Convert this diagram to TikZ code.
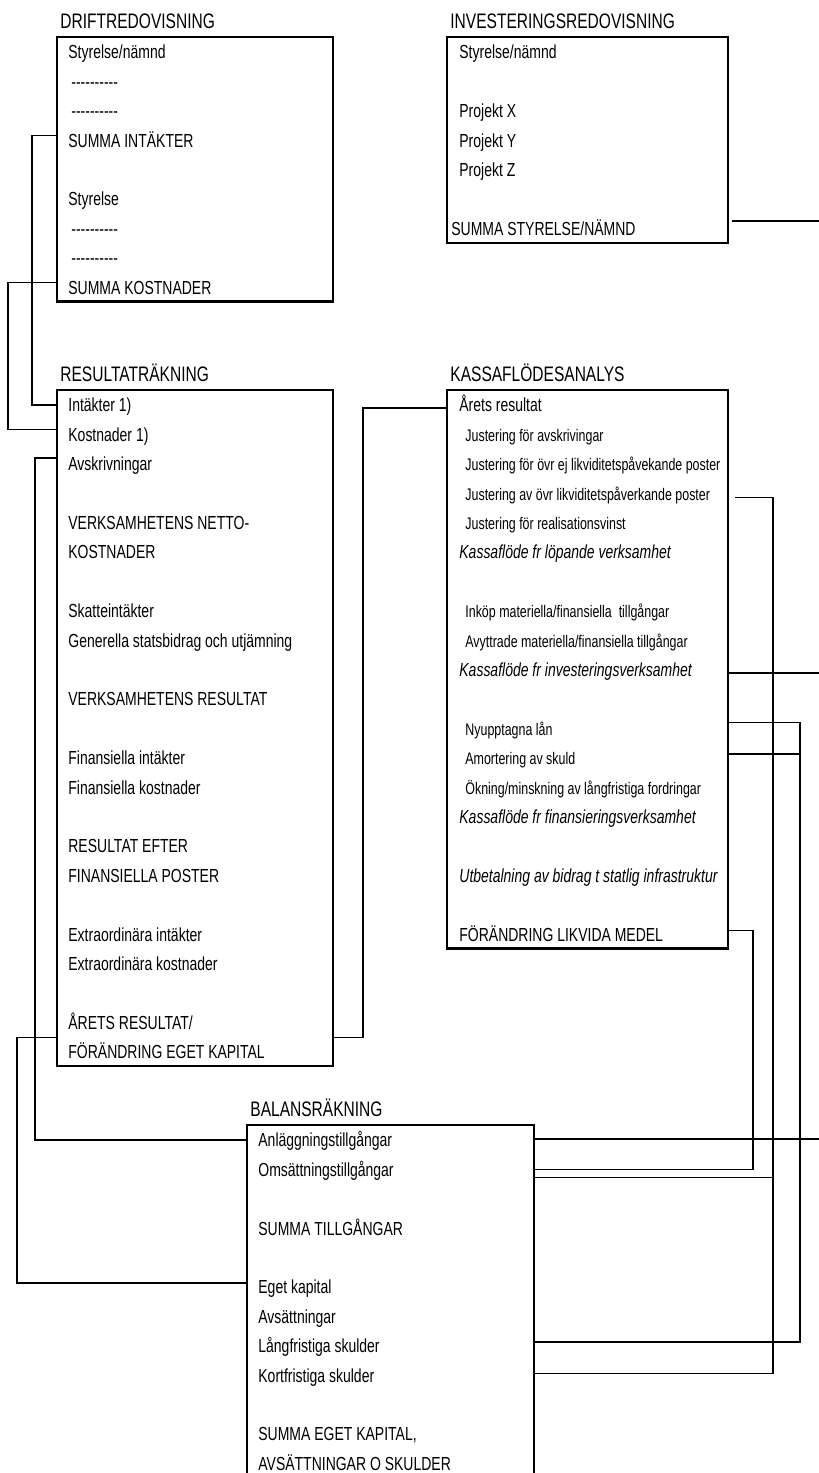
\documentclass[tikz,border=0pt]{standalone}
\usepackage{fontspec}
\setmainfont{Liberation Sans}[FakeStretch=0.74]
\usetikzlibrary{matrix,positioning}
\newcommand\rowfont{\fontsize{9.45pt}{11pt}\selectfont}
\newcommand\subfont{\fontsize{8.4pt}{10pt}\selectfont}
\newcommand\headfont{\fontsize{10.5pt}{12pt}\selectfont}
\newcommand\dashes{{-}{-}{-}{-}{-}{-}{-}{-}{-}{-}}
\tikzset{frame/.style={draw, line width=1.25pt, anchor=north west, inner sep=0pt,
           outer sep=0pt},
         heading/.style={font=\headfont, inner sep=0pt},
         rows/.style={matrix of nodes, nodes in empty cells, inner sep=0pt,
           row sep=0pt, nodes={anchor=base west, inner sep=0pt, font=\rowfont,
           text height=10.75pt, text depth=3.95pt}},
         sub/.style={font=\subfont, execute at begin node={\hspace*{3pt}}},
         dashrow/.style={execute at begin node={\hspace*{1.5pt}}},
         pull/.style={execute at begin node={\hspace*{-4pt}}},
         flow/.style={font=\rowfont\itshape},
         link/.style={line width=0.7pt}}
\begin{document}
\begin{tikzpicture}[x=0.5pt, y=-0.5pt]
	\useasboundingbox (0,0) rectangle (819,1473);
	\node[frame, minimum width=138pt, minimum height=132.3pt] (drift) at (57,37) {};
	\node[heading, above right=3.9pt and 1.5pt of drift.north west] (driftHead) {DRIFTREDOVISNING};
	\matrix (dr) [rows, below right=0pt and 5.5pt of drift.north west]
	  { Styrelse/nämnd \\
	    |[dashrow]| \dashes \\
	    |[dashrow]| \dashes \\
	    SUMMA INTÄKTER \\
	    \\
	    Styrelse \\
	    |[dashrow]| \dashes \\
	    |[dashrow]| \dashes \\
	    SUMMA KOSTNADER \\ };
	\node[frame, minimum width=140.5pt, minimum height=102.9pt] (invest) at (447,37) {};
	\node[heading, above right=3.9pt and 1.5pt of invest.north west] (investHead) {INVESTERINGSREDOVISNING};
	\matrix (iv) [rows, below right=0pt and 6pt of invest.north west]
	  { Styrelse/nämnd \\
	    \\
	    Projekt X \\
	    Projekt Y \\
	    Projekt Z \\
	    \\
	    |[pull]| SUMMA STYRELSE/NÄMND \\ };
	\node[frame, minimum width=138pt, minimum height=338.1pt] (res) at (57,390) {};
	\node[heading, above right=3.9pt and 1.5pt of res.north west] (resHead) {RESULTATRÄKNING};
	\matrix (rs) [rows, below right=0pt and 5.5pt of res.north west]
	  { Intäkter 1) \\
	    Kostnader 1) \\
	    Avskrivningar \\
	    \\
	    VERKSAMHETENS NETTO- \\
	    KOSTNADER \\
	    \\
	    Skatteintäkter \\
	    Generella statsbidrag och utjämning \\
	    \\
	    VERKSAMHETENS RESULTAT \\
	    \\
	    Finansiella intäkter \\
	    Finansiella kostnader \\
	    \\
	    RESULTAT EFTER \\
	    FINANSIELLA POSTER \\
	    \\
	    Extraordinära intäkter \\
	    Extraordinära kostnader \\
	    \\
	    ÅRETS RESULTAT/ \\
	    FÖRÄNDRING EGET KAPITAL \\ };
	\node[frame, minimum width=140.5pt, minimum height=279.3pt] (kassa) at (447,390) {};
	\node[heading, above right=3.9pt and 1.5pt of kassa.north west] (kassaHead) {KASSAFLÖDESANALYS};
	\matrix (ks) [rows, below right=0pt and 6pt of kassa.north west]
	  { Årets resultat \\
	    |[sub]| Justering för avskrivingar \\
	    |[sub]| Justering för övr ej likviditetspåvekande poster \\
	    |[sub]| Justering av övr likviditetspåverkande poster \\
	    |[sub]| Justering för realisationsvinst \\
	    |[flow]| Kassaflöde fr löpande verksamhet \\
	    \\
	    |[sub]| Inköp materiella/finansiella\ \ tillgångar \\
	    |[sub]| Avyttrade materiella/finansiella tillgångar \\
	    |[flow]| Kassaflöde fr investeringsverksamhet \\
	    \\
	    |[sub]| Nyupptagna lån \\
	    |[sub]| Amortering av skuld \\
	    |[sub]| Ökning/minskning av långfristiga fordringar \\
	    |[flow]| Kassaflöde fr finansieringsverksamhet \\
	    \\
	    |[flow]| Utbetalning av bidrag t statlig infrastruktur \\
	    \\
	    FÖRÄNDRING LIKVIDA MEDEL \\ };
	\node[frame, minimum width=143.5pt, minimum height=180pt] (balans) at (247,1125) {};
	\node[heading, above right=3.9pt and 1.5pt of balans.north west] (balansHead) {BALANSRÄKNING};
	\matrix (bl) [rows, below right=0pt and 5.5pt of balans.north west]
	  { Anläggningstillgångar \\
	    Omsättningstillgångar \\
	    \\
	    SUMMA TILLGÅNGAR \\
	    \\
	    Eget kapital \\
	    Avsättningar \\
	    Långfristiga skulder \\
	    Kortfristiga skulder \\
	    \\
	    SUMMA EGET KAPITAL, \\
	    AVSÄTTNINGAR O SKULDER \\ };
	\coordinate (busA) at (32,300);
	\coordinate (busB) at (8,350);
	\coordinate (busC) at (35,800);
	\coordinate (busD) at (17,1150);
	\coordinate (busE) at (363,700);
	\coordinate (busF) at (773,1300);
	\coordinate (busG) at (800,1000);
	\coordinate (busH) at (753,1050);
	\coordinate (outInv) at (819,221);
	\coordinate (outFlow) at (819,673);
	\coordinate (outBal) at (819,1139);
	\draw[link] ([yshift=2.5pt]drift.west |- dr-4-1) -| (busA) |- (res.west |- rs-1-1);
	\draw[link] ([yshift=2.5pt]drift.west |- dr-9-1) -| (busB) |- ([yshift=2.5pt]res.west |- rs-2-1);
	\draw[link] ([yshift=3pt]res.west |- rs-3-1) -| (busC) |- (balans.west |- bl-1-1);
	\draw[link] (res.west |- rs-22-1.south) -| (busD) |- ([yshift=2pt]balans.west |- bl-6-1);
	\draw[link] (res.east |- rs-22-1.south) -| (busE) |- ([yshift=-1.5pt]kassa.west |- ks-1-1);
	\draw[link] ([xshift=3.5pt,yshift=-2pt]kassa.east |- ks-4-1) -| (busF) |- ([yshift=1pt]balans.east |- bl-9-1);
	\draw[link] ([yshift=-4pt]balans.east |- bl-2-1) -| (busF);
	\draw[link] ([yshift=3pt]kassa.east |- ks-12-1) -| (busG) |- ([yshift=2pt]balans.east |- bl-8-1);
	\draw[link] ([yshift=2pt]kassa.east |- ks-13-1) -| (busG);
	\draw[link] ([yshift=2pt]kassa.east |- ks-19-1) -| (busH) |- (balans.east |- bl-2-1);
	\draw[link] ([xshift=2pt]invest.east |- outInv) -- (outInv);
	\draw[link] (kassa.east |- outFlow) -- (outFlow);
	\draw[link] (balans.east |- outBal) -- (outBal);
\end{tikzpicture}
\end{document}
